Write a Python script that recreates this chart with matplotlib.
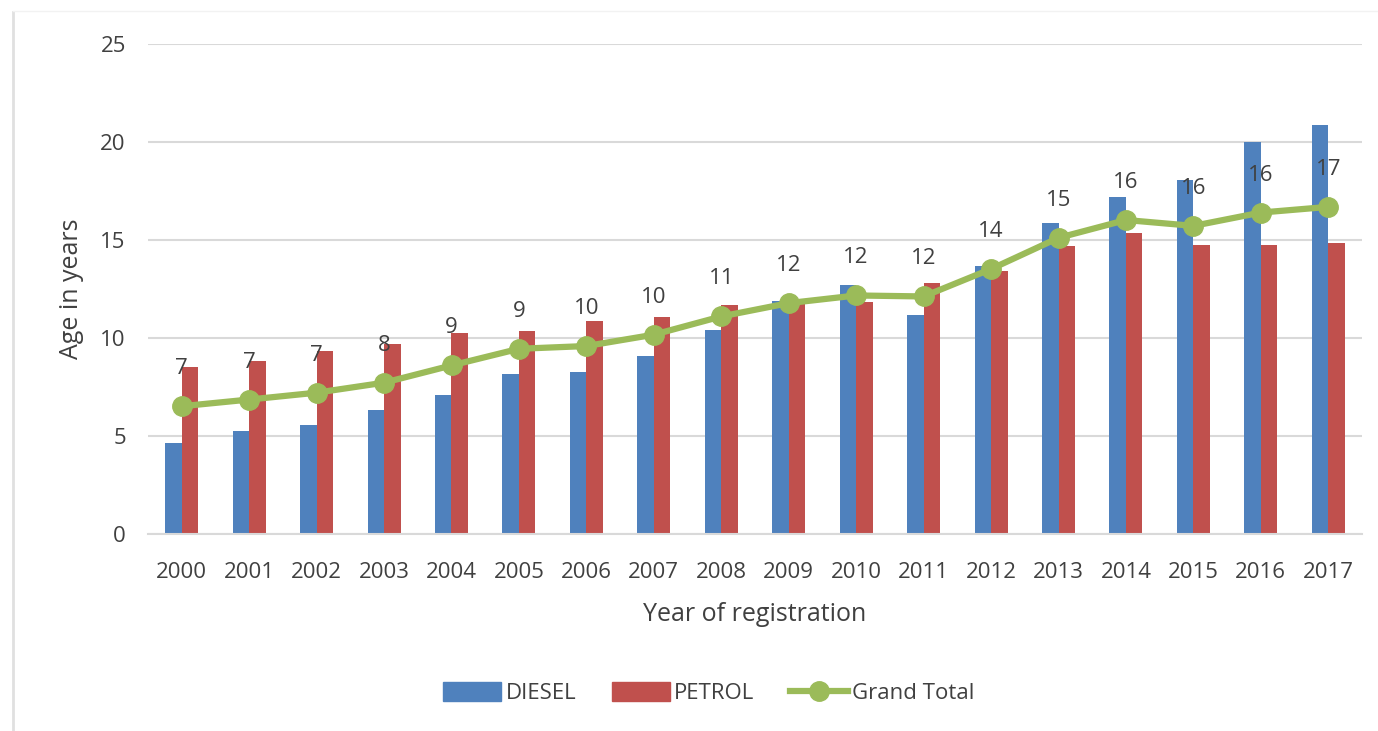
import numpy as np
import matplotlib
matplotlib.use("Agg")
import matplotlib.pyplot as plt
from matplotlib.lines import Line2D

# --------------------------------- Data ------------------------------------- #
years = [str(y) for y in range(2000, 2018)]
diesel = [4.65, 5.24, 5.58, 6.35, 7.11, 8.18, 8.28, 9.10, 10.40, 11.91,
          12.71, 11.15, 13.65, 15.89, 17.19, 18.06, 20.01, 20.88]
petrol = [8.50, 8.84, 9.33, 9.71, 10.25, 10.34, 10.85, 11.07, 11.68, 11.83,
          11.83, 12.80, 13.41, 14.70, 15.36, 14.77, 14.73, 14.87]
grand_total = [6.52, 6.86, 7.21, 7.72, 8.60, 9.45, 9.59, 10.17, 11.10, 11.78,
               12.17, 12.12, 13.52, 15.11, 16.02, 15.72, 16.40, 16.69]

BLUE = "#4F81BD"
RED = "#C0504D"
GREEN = "#9BBB59"
TXT = "#404040"
GRID = "#D9D9D9"

plt.rcParams['font.family'] = ['Open Sans', 'DejaVu Sans']

fig = plt.figure(figsize=(13.78, 7.31), dpi=100)
ax = fig.add_axes([148/1378, 1 - 534/731, (1362-148)/1378, (534-44)/731])

x = np.arange(len(years))
w = 0.245
ax.bar(x - w/2, diesel, width=w, color=BLUE, label="DIESEL", zorder=2)
ax.bar(x + w/2, petrol, width=w, color=RED, label="PETROL", zorder=2)
ax.plot(x, grand_total, color=GREEN, lw=4.5, marker='o', ms=14, label="Grand Total", zorder=3)

for xi, v in zip(x, grand_total):
    ax.annotate(f"{v:.0f}", (xi, v), xytext=(0, 27), textcoords="offset points",
                ha='center', va='center', fontsize=16, color=TXT, zorder=4)

ax.set_xlim(-0.5, len(years) - 0.5)
ax.set_ylim(0, 25)
ax.set_yticks([0, 5, 10, 15, 20, 25])
ax.set_xticks(x)
ax.set_xticklabels(years)
ax.yaxis.grid(True, color=GRID, lw=1.5, zorder=0)
ax.set_axisbelow(True)
for s in ["top", "right", "left"]:
    ax.spines[s].set_visible(False)
ax.spines["bottom"].set_color(GRID)
ax.spines["bottom"].set_linewidth(1.5)
ax.tick_params(length=0, labelsize=16, labelcolor=TXT)
ax.tick_params(axis='y', pad=16)
ax.tick_params(axis='x', pad=20)

ax.set_ylabel("Age in years", fontsize=18, color=TXT, labelpad=12)
ax.set_xlabel("Year of registration", fontsize=18, color=TXT, labelpad=14)

handles = [
    plt.Rectangle((0, 0), 1, 1, color=BLUE),
    plt.Rectangle((0, 0), 1, 1, color=RED),
    Line2D([0], [0], color=GREEN, lw=4.5, marker='o', ms=14),
]
fig.legend(handles, ["DIESEL", "PETROL", "Grand Total"], loc="center",
           bbox_to_anchor=(709/1378, 1 - 693/731), ncol=3, frameon=False,
           fontsize=16, labelcolor=TXT, handlelength=2.6, handleheight=0.9,
           columnspacing=1.6, handletextpad=0.2)

# page border lines
fig.add_artist(Line2D([13/1378, 13/1378], [0, 1 - 12/731], color="#E0E0E0", lw=2))
fig.add_artist(Line2D([13/1378, 1], [1 - 11/731, 1 - 11/731], color="#F2F2F2", lw=1))

fig.savefig("out.png", dpi=100)
